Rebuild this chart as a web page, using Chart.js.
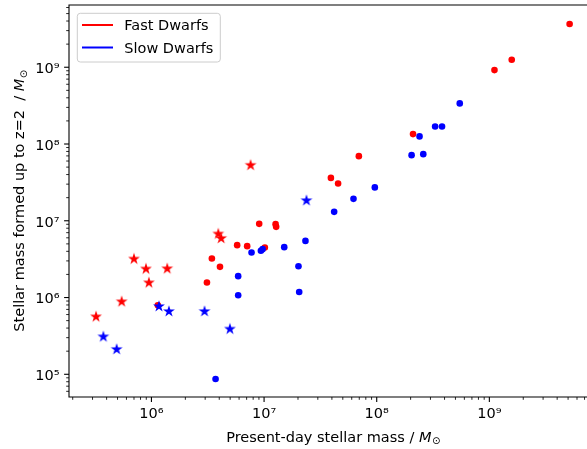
<!DOCTYPE html>
<html><head><meta charset="utf-8">
<script src="https://cdn.jsdelivr.net/npm/chart.js@4.4.1/dist/chart.umd.min.js"></script>
<style>html,body{margin:0;padding:0;background:#fff;overflow:hidden}canvas{display:block}</style>
</head><body>
<canvas id="c" width="587" height="449"></canvas>
<script>
// ---------- data ----------
const seriesNames  = ['Fast Dwarfs', 'Slow Dwarfs'];
const seriesColors = ['#ff0000', '#0000ff'];

const fastStarsX = [3.22e5, 5.44e5, 7.0e5, 8.94e5, 9.5e5, 1.38e6, 3.92e6, 4.16e6, 7.59e6];
const fastStarsY = [5.70e5, 8.95e5, 3.22e6, 2.39e6, 1.58e6, 2.41e6, 6.83e6, 5.98e6, 5.36e7];

const fastDotsX = [1.14e6, 3.11e6, 3.44e6, 4.06e6, 5.77e6, 7.08e6, 9.05e6, 1.016e7, 1.265e7, 1.28e7,
                   3.92e7, 4.54e7, 6.94e7, 2.10e8, 1.11e9, 1.58e9, 5.16e9];
const fastDotsY = [7.94e5, 1.57e6, 3.22e6, 2.51e6, 4.81e6, 4.67e6, 9.12e6, 4.49e6, 9.04e6, 8.33e6,
                   3.62e7, 3.06e7, 6.95e7, 1.346e8, 9.18e8, 1.25e9, 3.66e9];

const slowStarsX = [3.74e5, 4.91e5, 1.166e6, 1.43e6, 2.96e6, 4.97e6, 2.38e7];
const slowStarsY = [3.13e5, 2.14e5, 7.77e5, 6.68e5, 6.68e5, 3.94e5, 1.86e7];

const slowDotsX = [3.71e6, 5.89e6, 5.89e6, 7.74e6, 9.37e6, 9.70e6, 1.51e7, 2.02e7, 2.05e7, 2.33e7,
                   4.19e7, 6.22e7, 9.62e7, 2.04e8, 2.40e8, 2.59e8, 3.30e8, 3.80e8, 5.46e8];
const slowDotsY = [8.69e4, 1.07e6, 1.90e6, 3.86e6, 4.06e6, 4.27e6, 4.53e6, 2.56e6, 1.18e6, 5.47e6,
                   1.306e7, 1.93e7, 2.72e7, 7.16e7, 1.256e8, 7.38e7, 1.69e8, 1.69e8, 3.38e8];

const xTickExponents = [6, 7, 8, 9];
const yTickExponents = [5, 6, 7, 8, 9];
const xLimits = [1.854e5, 7.36e9];
const yLimits = [5.06e4, 6.47e9];

const xTitle = 'Present-day stellar mass / ';
const yTitle = 'Stellar mass formed up to z=2  / ';
const unitMain = 'M';
const unitSub = '\u2299';

// ---------- helpers ----------
const FONT = '"DejaVu Sans", "Liberation Sans", sans-serif';
const FS = 14.5;
const SUP = {'0':'\u2070','1':'\u00b9','2':'\u00b2','3':'\u00b3','4':'\u2074','5':'\u2075','6':'\u2076','7':'\u2077','8':'\u2078','9':'\u2079','-':'\u207b'};
function powLabel(v, exps) {
  const l = Math.log10(v), e = Math.round(l);
  if (Math.abs(l - e) > 1e-6 || !exps.includes(e)) return '';
  return '10' + String(e).split('').map(d => SUP[d]).join('');
}
function makeStar(color, R) {
  const s = Math.ceil(2 * R + 3);
  const c = document.createElement('canvas');
  c.width = s; c.height = s;
  const g = c.getContext('2d');
  g.fillStyle = color;
  g.beginPath();
  for (let i = 0; i < 10; i++) {
    const a = -Math.PI / 2 + i * Math.PI / 5;
    const r = (i % 2) ? R * 0.381966 : R;
    const px = s / 2 + r * Math.cos(a), py = s / 2 + r * Math.sin(a) + 0.5;
    if (i === 0) g.moveTo(px, py); else g.lineTo(px, py);
  }
  g.closePath();
  g.fill();
  return c;
}
const toPts = (xs, ys) => xs.map((x, i) => ({x: x, y: ys[i]}));

// ---------- custom drawing: frame, ticks, legend, titles ----------
const decor = {
  id: 'decor',
  afterDraw(chart) {
    const ctx = chart.ctx, a = chart.chartArea;
    const xs = chart.scales.x, ys = chart.scales.y;
    ctx.save();
    ctx.strokeStyle = '#000';
    function ticksFor(scale, isX) {
      const lo = Math.floor(Math.log10(scale.min)), hi = Math.ceil(Math.log10(scale.max));
      for (let d = lo; d <= hi; d++) {
        for (let m = 1; m <= 9; m++) {
          const v = m * Math.pow(10, d);
          if (v < scale.min || v > scale.max) continue;
          const p = scale.getPixelForValue(v);
          const len = m === 1 ? 4.9 : 2.8;
          ctx.lineWidth = m === 1 ? 1.1 : 0.85;
          ctx.beginPath();
          if (isX) { ctx.moveTo(p, a.bottom); ctx.lineTo(p, a.bottom + len); }
          else { ctx.moveTo(a.left, p); ctx.lineTo(a.left - len, p); }
          ctx.stroke();
        }
      }
    }
    ticksFor(xs, true);
    ticksFor(ys, false);
    ctx.lineWidth = 1.1;
    ctx.beginPath();
    ctx.moveTo(a.right + 2, a.top); ctx.lineTo(a.left, a.top);
    ctx.lineTo(a.left, a.bottom); ctx.lineTo(a.right + 2, a.bottom);
    ctx.stroke();

    // legend
    const bx = 77.3, by = 13.3, bw = 143, bh = 48.7, r = 3;
    ctx.beginPath();
    ctx.moveTo(bx + r, by); ctx.lineTo(bx + bw - r, by); ctx.quadraticCurveTo(bx + bw, by, bx + bw, by + r);
    ctx.lineTo(bx + bw, by + bh - r); ctx.quadraticCurveTo(bx + bw, by + bh, bx + bw - r, by + bh);
    ctx.lineTo(bx + r, by + bh); ctx.quadraticCurveTo(bx, by + bh, bx, by + bh - r);
    ctx.lineTo(bx, by + r); ctx.quadraticCurveTo(bx, by, bx + r, by);
    ctx.closePath();
    ctx.fillStyle = 'rgba(255,255,255,0.8)';
    ctx.fill();
    ctx.strokeStyle = '#cccccc';
    ctx.lineWidth = 1;
    ctx.stroke();
    const rowY = [25, 47.5];
    ctx.font = FS + 'px ' + FONT;
    ctx.textBaseline = 'alphabetic';
    ctx.textAlign = 'left';
    seriesNames.forEach((n, i) => {
      ctx.strokeStyle = seriesColors[i];
      ctx.lineWidth = 2;
      ctx.beginPath();
      ctx.moveTo(82, rowY[i]); ctx.lineTo(113, rowY[i]);
      ctx.stroke();
      ctx.fillStyle = '#000';
      ctx.fillText(n, 124.3, rowY[i] + 5.4);
    });

    // axis titles
    function drawTitle(text, cx, baseY) {
      ctx.font = FS + 'px ' + FONT;
      const w1 = ctx.measureText(text).width;
      ctx.font = 'italic ' + FS + 'px ' + FONT;
      const w2 = ctx.measureText(unitMain).width;
      ctx.font = '10px ' + FONT;
      const w3 = ctx.measureText(unitSub).width;
      let x = cx - (w1 + w2 + w3) / 2;
      ctx.fillStyle = '#000';
      ctx.textAlign = 'left';
      ctx.textBaseline = 'alphabetic';
      ctx.font = FS + 'px ' + FONT;
      ctx.fillText(text, x, baseY); x += w1;
      ctx.font = 'italic ' + FS + 'px ' + FONT;
      ctx.fillText(unitMain, x, baseY); x += w2 + 0.5;
      ctx.font = '10px ' + FONT;
      ctx.fillText(unitSub, x, baseY + 2.3);
    }
    drawTitle(xTitle, 333, 441.5);
    ctx.save();
    ctx.translate(24.2, (a.top + a.bottom) / 2);
    ctx.rotate(-Math.PI / 2);
    drawTitle(yTitle, 0, 0);
    ctx.restore();
    ctx.restore();
  }
};

const redStar = makeStar(seriesColors[0], 6.2);
const blueStar = makeStar(seriesColors[1], 6.2);

new Chart(document.getElementById('c'), {
  type: 'scatter',
  data: {
    datasets: [
      {label: seriesNames[1] + ' (stars)', data: toPts(slowStarsX, slowStarsY), pointStyle: blueStar, pointRadius: 6, backgroundColor: seriesColors[1], borderWidth: 0, order: 0},
      {label: seriesNames[1] + ' (dots)', data: toPts(slowDotsX, slowDotsY), pointStyle: 'circle', pointRadius: 3.3, backgroundColor: seriesColors[1], borderWidth: 0, order: 0},
      {label: seriesNames[0] + ' (stars)', data: toPts(fastStarsX, fastStarsY), pointStyle: redStar, pointRadius: 6, backgroundColor: seriesColors[0], borderWidth: 0, order: 1},
      {label: seriesNames[0] + ' (dots)', data: toPts(fastDotsX, fastDotsY), pointStyle: 'circle', pointRadius: 3.3, backgroundColor: seriesColors[0], borderWidth: 0, order: 1}
    ]
  },
  options: {
    responsive: false,
    animation: false,
    devicePixelRatio: 1,
    layout: {autoPadding: false, padding: {top: 5, right: 0, left: 0, bottom: 0}},
    plugins: {legend: {display: false}, tooltip: {enabled: false}},
    scales: {
      x: {
        type: 'logarithmic', position: 'bottom', min: xLimits[0], max: xLimits[1], bounds: 'data',
        grid: {display: false, drawTicks: false}, border: {display: false},
        ticks: {autoSkip: false, maxRotation: 0, minRotation: 0, padding: 9, color: '#000',
                font: {family: FONT, size: FS}, callback: v => powLabel(v, xTickExponents)},
        afterFit: s => { s.height = 52; s.paddingLeft = 0; s.paddingRight = 0; }
      },
      y: {
        type: 'logarithmic', position: 'left', min: yLimits[0], max: yLimits[1], bounds: 'data',
        grid: {display: false, drawTicks: false}, border: {display: false},
        ticks: {autoSkip: false, padding: 9.5, labelOffset: 2, color: '#000',
                font: {family: FONT, size: FS}, callback: v => powLabel(v, yTickExponents)},
        afterFit: s => { s.width = 69; s.paddingTop = 0; s.paddingBottom = 0; }
      }
    }
  },
  plugins: [decor]
});
</script>
</body></html>
